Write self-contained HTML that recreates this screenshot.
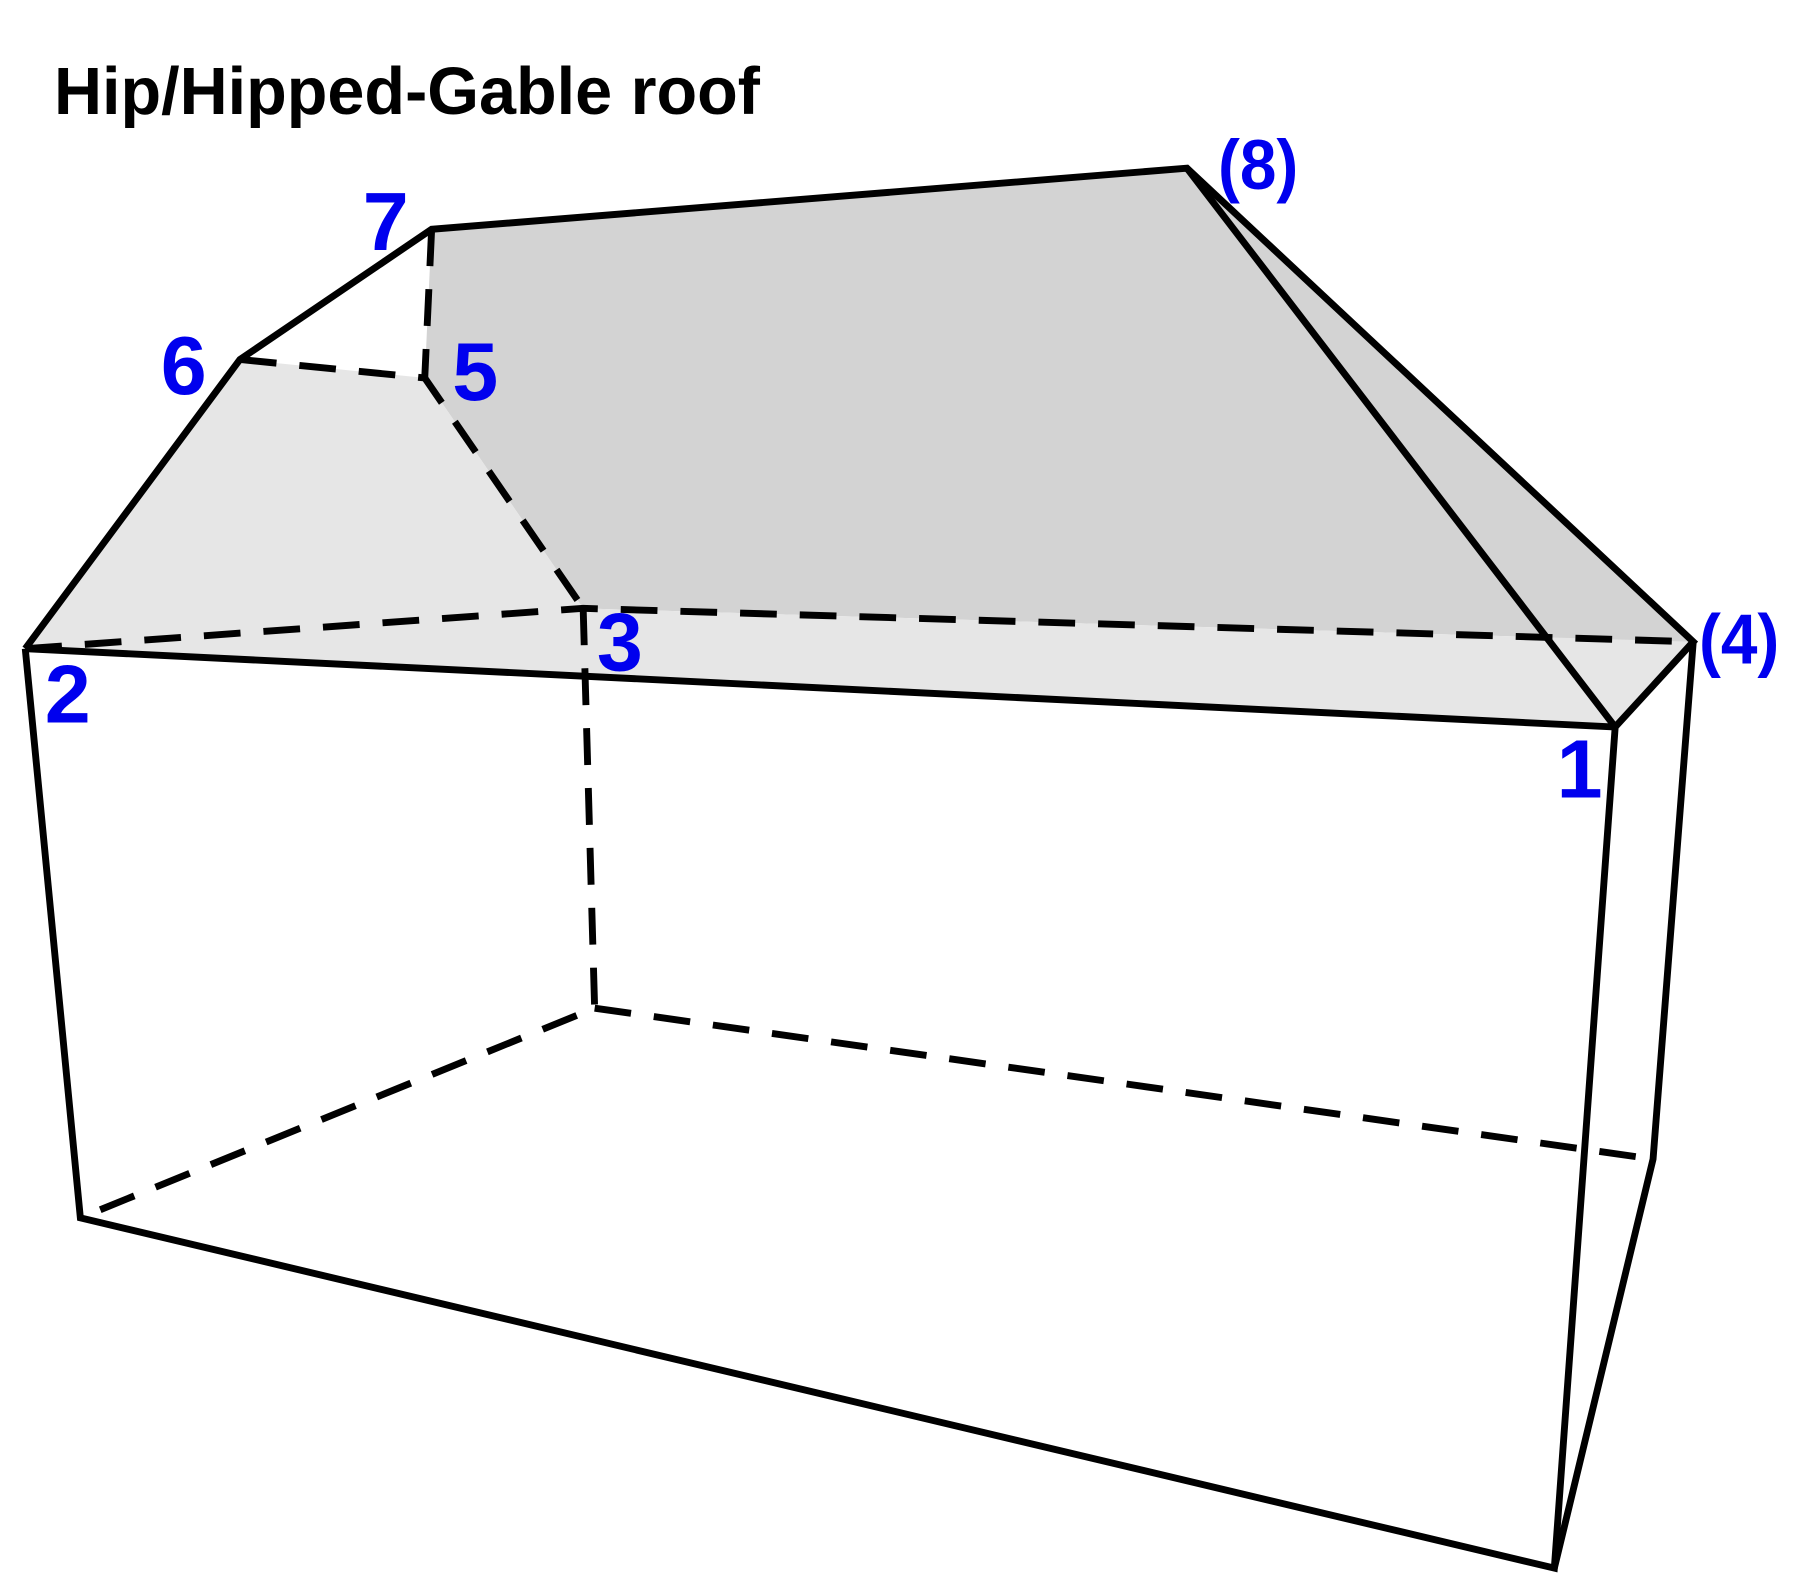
<!DOCTYPE html>
<html><head><meta charset="utf-8"><style>
html,body{margin:0;padding:0;background:#fff;}
svg{display:block;}
</style></head><body>
<svg width="1800" height="1590" viewBox="0 0 1568 1380" preserveAspectRatio="none" xmlns="http://www.w3.org/2000/svg">
<rect width="1568" height="1380" fill="#fff"/>
<polygon points="370,328 376,199 1034,146 1475,557 508,528" fill="#d3d3d3"/>
<polygon points="1034,146 1475,557 1407,631" fill="#d3d3d3"/>
<polygon points="22,563 209,312 370,328 508,528 1475,557 1407,631" fill="#e6e6e6"/>
<g stroke="#000" stroke-width="6" fill="none" stroke-linejoin="miter">
<polyline points="22,563 209,312 376,199 1034,146 1475,557 1407,631 22,563"/>
<line x1="1034" y1="146" x2="1407" y2="631"/>
<polyline points="22,563 70,1057 1354,1361 1407,631"/>
<polyline points="1475,557 1440,1006 1354,1361"/>
</g>
<g stroke="#000" stroke-width="6" fill="none" stroke-dasharray="32,20">
<polyline points="209,312 370,328 508,528"/>
<line x1="376" y1="199" x2="370" y2="328"/>
<polyline points="22,563 508,528 1475,557"/>
<polyline points="508,528 518,875 70,1057"/>
<line x1="518" y1="875" x2="1440" y2="1006"/>
</g>
<g font-family="'Liberation Sans',sans-serif" font-weight="bold">
<text x="47" y="99" font-size="58" fill="#000" textLength="615" lengthAdjust="spacingAndGlyphs">Hip/Hipped-Gable roof</text>
<g fill="#0000ee" font-size="72">
<text x="316" y="217">7</text>
<text x="140" y="342">6</text>
<text x="394" y="347">5</text>
<text x="520" y="582">3</text>
<text x="39" y="627">2</text>
<text x="1356" y="692">1</text>
<text x="1061" y="164" font-size="61" textLength="70" lengthAdjust="spacingAndGlyphs">(8)</text>
<text x="1480" y="576" font-size="61" textLength="70" lengthAdjust="spacingAndGlyphs">(4)</text>
</g>
</g>
</svg>
</body></html>
